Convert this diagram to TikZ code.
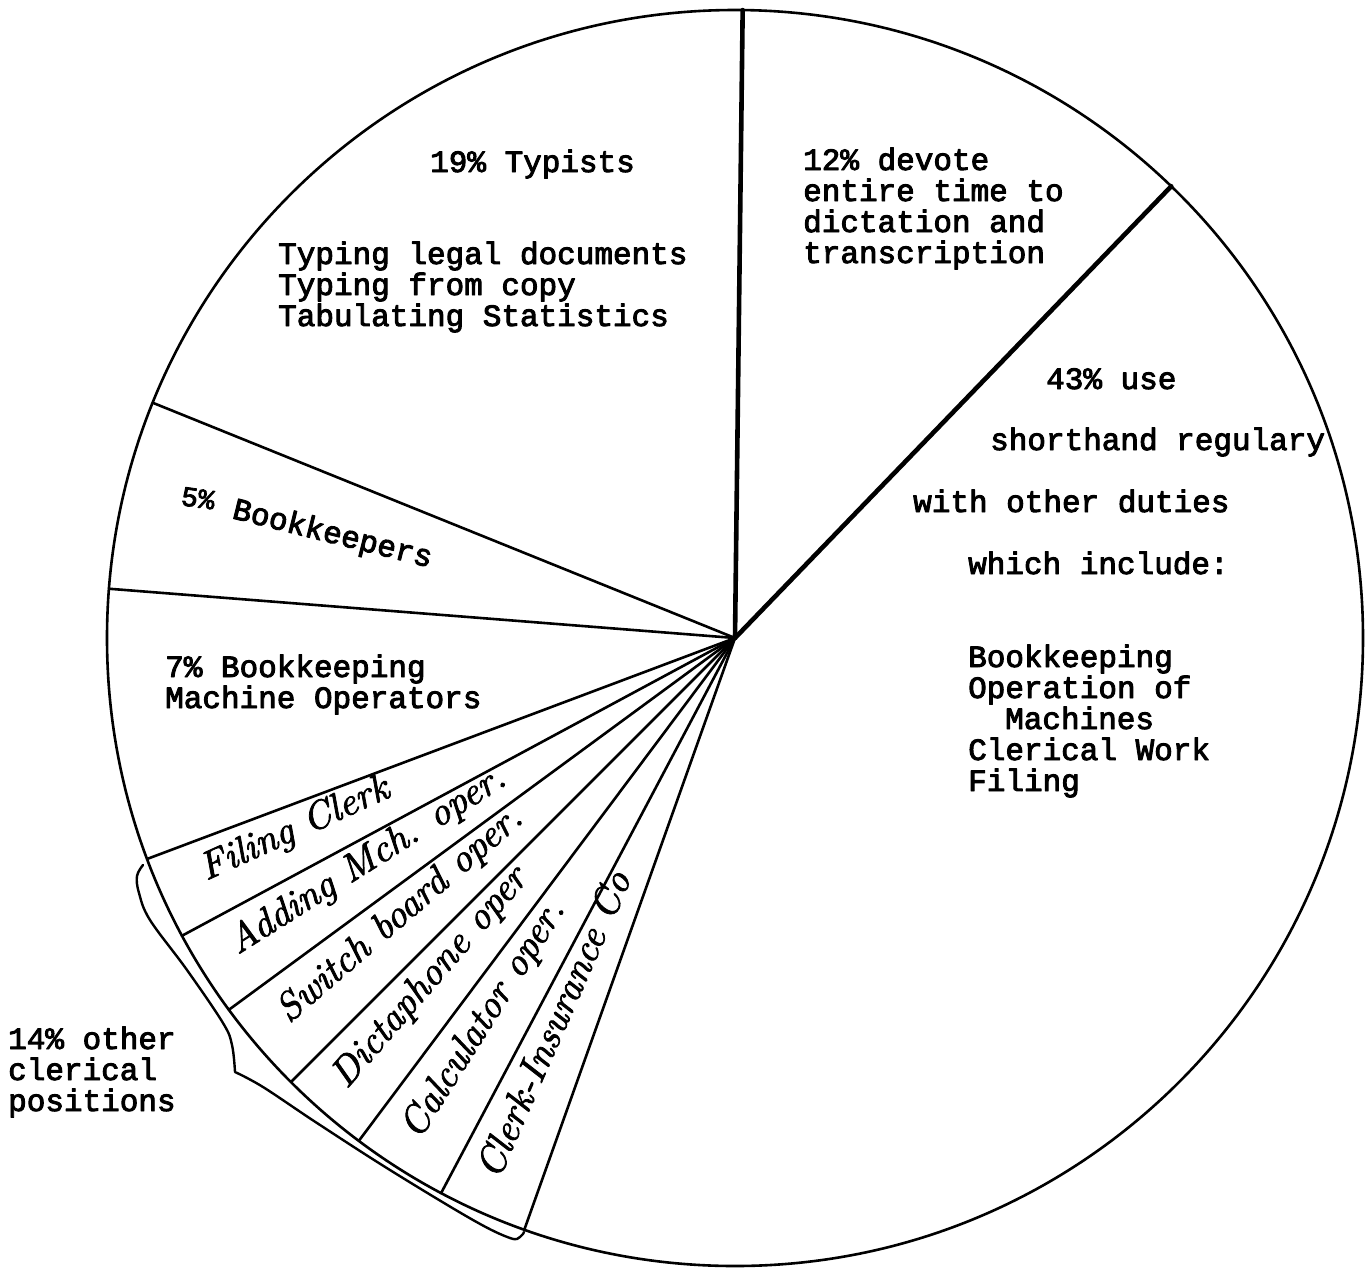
\documentclass[tikz,border=0pt]{standalone}
\usepackage{fontspec}
\newfontfamily\tw{Liberation Mono}[FakeBold=3]
\newfontfamily\hw{lmroman10-italic.otf}[FakeBold=2]
\begin{document}
\begin{tikzpicture}[x=1pt,y=-1pt, line cap=round, line join=round,
  edge/.style={line width=2.6pt},
  heavy/.style={line width=4.6pt},
  typed/.style={font=\tw\fontsize{31}{31}\selectfont, inner sep=0pt, anchor=base west},
  hand/.style={font=\hw\fontsize{39}{39}\selectfont, inner sep=0pt, anchor=mid west}]
\useasboundingbox (0,0) rectangle (1366,1270);
\coordinate (c) at (735,638);
\draw[edge] (c) circle[radius=628];
% spoke ends
\path (c) ++(-89.3:628) coordinate (s1);
\path (c) ++(-46.0:628) coordinate (s2);
\path (c) ++(-158.0:628) coordinate (s3);
\path (c) ++(-175.5:628) coordinate (s4);
\path (c) ++(-200.6:628) coordinate (s5);
\path (c) ++(-208.3:628) coordinate (s6);
\path (c) ++(-216.3:628) coordinate (s7);
\path (c) ++(-225.0:628) coordinate (s8);
\path (c) ++(-233.2:628) coordinate (s9);
\path (c) ++(-242.1:628) coordinate (s10);
\path (c) ++(-250.4:628) coordinate (s11);
\draw[heavy] (c) -- (s1);
\draw[heavy] (c) -- (s2);
\foreach \s in {s3,s4,s5,s6,s7,s8,s9,s10,s11} \draw[edge] (c) -- (\s);
% bracket
\draw[edge, line width=2.4pt]
  plot[smooth, tension=0.6] coordinates {(143,865) (137,876) (139,893) (150,920) (187,970) (223,1023) (232,1045) (235,1072)}
  -- plot[smooth, tension=0.6] coordinates {(235,1072) (263,1087) (317,1123) (390,1170) (473,1220) (510,1238) (520,1237) (524,1232)};
% typed labels
\node[typed] (t1) at (430,172) {19\% Typists};
\node[typed] (t2) at (278,264) {Typing legal documents};
\node[typed] (t3) at (278,295) {Typing from copy};
\node[typed] (t4) at (278,326) {Tabulating Statistics};
\node[typed] (d1) at (803,170) {12\% devote};
\node[typed] (d2) at (803,201) {entire time to};
\node[typed] (d3) at (803,232) {dictation and};
\node[typed] (d4) at (803,263) {transcription};
\node[typed] (u1) at (1046,389) {43\% use};
\node[typed] (u2) at (990,450) {shorthand regulary};
\node[typed] (u3) at (913,512) {with other duties};
\node[typed] (u4) at (968,574) {which include:};
\node[typed] (u5) at (968,667) {Bookkeeping};
\node[typed] (u6) at (968,698) {Operation of};
\node[typed] (u7) at (1005,729) {Machines};
\node[typed] (u8) at (968,760) {Clerical Work};
\node[typed] (u9) at (968,791) {Filing};
\node[typed, font=\tw\fontsize{28}{28}\selectfont, rotate=-8] (b1) at (180,505) {5\%};
\node[typed, rotate=-14] (b2) at (231,518) {Bookkeepers};
\node[typed] (m1) at (165,677) {7\% Bookkeeping};
\node[typed] (m2) at (165,708) {Machine Operators};
\node[typed] (o1) at (8,1049) {14\% other};
\node[typed] (o2) at (8,1080) {clerical};
\node[typed] (o3) at (8,1111) {positions};
% handwritten labels, along each slice's bisector
\path (c) ++(-204.45:582) coordinate (p1);
\path (c) ++(-212.3:590) coordinate (p2);
\path (c) ++(-220.65:590) coordinate (p3);
\path (c) ++(-229.1:596) coordinate (p4);
\path (c) ++(-237.65:594) coordinate (p5);
\path (c) ++(-246.25:592) coordinate (p6);
\node[hand, rotate=24.45] (h1) at (p1) {Filing Clerk};
\node[hand, rotate=32.3] (h2) at (p2) {Adding Mch. oper.};
\node[hand, rotate=40.65] (h3) at (p3) {Switch board oper.};
\node[hand, rotate=49.1] (h4) at (p4) {Dictaphone oper};
\node[hand, rotate=57.65] (h5) at (p5) {Calculator oper.};
\node[hand, rotate=66.25] (h6) at (p6) {Clerk-Insurance Co};
\end{tikzpicture}
\end{document}
